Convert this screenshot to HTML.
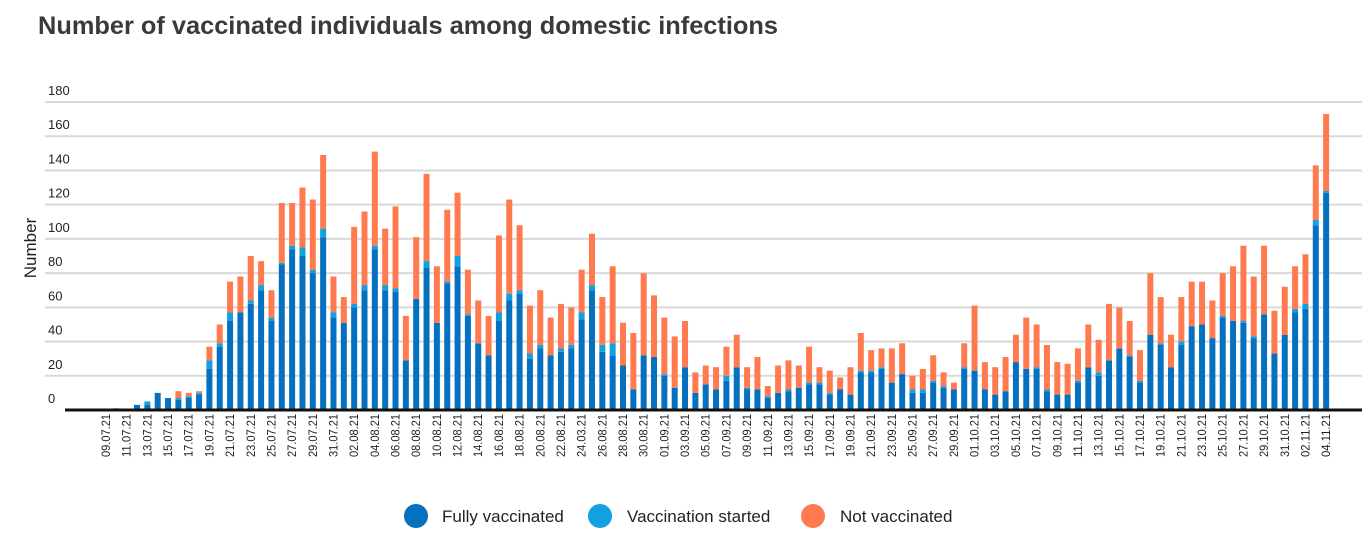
<!DOCTYPE html>
<html><head><meta charset="utf-8"><style>
body{margin:0;background:#fff;width:1365px;height:541px;overflow:hidden;font-family:"Liberation Sans",sans-serif}
svg text{font-family:"Liberation Sans",sans-serif}
</style></head><body>
<svg id="chart" width="1365" height="541" viewBox="0 0 1365 541" xmlns="http://www.w3.org/2000/svg">
<text x="38" y="34" font-size="25" font-weight="bold" fill="#3a3a3a" textLength="740" lengthAdjust="spacingAndGlyphs">Number of vaccinated individuals among domestic infections</text>
<text transform="translate(36,248) rotate(-90)" text-anchor="middle" font-size="17" fill="#222">Number</text>
<g id="grid"></g><g id="bars"></g><g id="xlabels"></g>
<line x1="65" x2="1362" y1="410" y2="410" stroke="#111" stroke-width="3"/>
<g>
<circle cx="416" cy="516" r="12" fill="#0570c0"/>
<text x="442" y="522" font-size="17" fill="#222">Fully vaccinated</text>
<circle cx="600" cy="516" r="12" fill="#11a0e0"/>
<text x="627" y="522" font-size="17" fill="#222">Vaccination started</text>
<circle cx="813" cy="516" r="12" fill="#ff7b4f"/>
<text x="840" y="522" font-size="17" fill="#222">Not vaccinated</text>
</g>
</svg>
<script>
const yTicks=[0,20,40,60,80,100,120,140,160,180];
const fully=[0,0,0,3,3,10,7,6,7,9,24,37,52,57,62,70,52,85,94,90,80,101,54,51,60,70,94,70,69,29,65,83,51,74,84,55,39,32,52,64,68,30,36,32,34,36,53,70,34,32,26,12,32,31,20,13,25,10,15,12,17,25,12,12,7,10,11,13,15,15,9,12,9,22,22,24,16,21,10,10,16,13,12,24,23,12,9,11,28,24,24,11,9,9,16,25,20,29,36,31,16,44,38,25,38,49,50,42,54,52,51,42,56,33,44,57,59,108,127];
const started=[0,1,0,0,2,0,0,1,1,1,5,2,5,0,2,3,2,1,2,5,2,5,3,0,2,3,2,3,2,0,0,4,0,1,6,1,0,0,5,4,2,3,2,0,2,2,4,3,4,7,0,0,0,0,1,0,0,0,0,0,3,0,1,0,1,0,1,0,1,1,1,0,0,1,1,1,0,0,2,2,1,1,0,1,0,0,0,0,0,0,1,1,0,0,1,0,2,0,0,1,1,0,1,0,2,0,0,0,1,0,1,1,0,0,0,2,3,3,1];
const notVacc=[0,0,0,0,0,0,0,4,2,1,8,11,18,21,26,14,16,35,25,35,41,43,21,15,45,43,55,33,48,26,36,51,33,42,37,26,25,23,45,55,38,28,32,22,26,22,25,30,28,45,25,33,48,36,33,30,27,12,11,13,17,19,12,19,6,16,17,13,21,9,13,7,16,22,12,11,20,18,8,12,15,8,4,14,38,16,16,20,16,30,25,26,19,18,19,25,19,33,24,20,18,36,27,19,26,26,25,22,25,32,44,35,40,25,28,25,29,32,45];
const startDate=[2021,6,9];
const NS="http://www.w3.org/2000/svg";
const y=v=>410-v*(308/180);
const x=i=>106+i*10.34;
function mk(t,a,p){const e=document.createElementNS(NS,t);for(const k in a)e.setAttribute(k,a[k]);p.appendChild(e);return e;}
const grid=document.getElementById('grid');
yTicks.forEach(v=>{
  if(v>0){const l=mk('line',{x1:45,x2:1362,y1:y(v),y2:y(v),stroke:'#d9d9d9','stroke-width':2},grid);
  
  }
  const t=mk('text',{x:48,y:y(v)-7,'font-size':13,fill:'#222'},grid);t.textContent=v;
  
  
});
const bars=document.getElementById('bars');
const cols=['#0570c0','#11a0e0','#ff7b4f'];
fully.forEach((f,i)=>{
  const vals=[f,started[i],notVacc[i]];let base=0;
  vals.forEach((v,s)=>{
    if(v<=0)return;
    const r=mk('rect',{x:x(i)-3,y:y(base+v),width:6,height:y(base)-y(base+v),fill:cols[s]},bars);
    
    
    base+=v;
  });
});
const xl=document.getElementById('xlabels');
const d0=new Date(startDate[0],startDate[1],startDate[2]);
for(let i=0;i<fully.length;i+=2){
  const d=new Date(d0.getTime()+i*86400000+3600000);
  let lab=String(d.getDate()).padStart(2,'0')+'.'+String(d.getMonth()+1).padStart(2,'0')+'.21';
  if(i===46)lab='24.03.21';
  const t=mk('text',{transform:`translate(${x(i)+4},457) rotate(-90)`,'font-size':12,fill:'#222',textLength:43,lengthAdjust:'spacingAndGlyphs'},xl);
  t.textContent=lab;
  
  
}
</script>
</body></html>
